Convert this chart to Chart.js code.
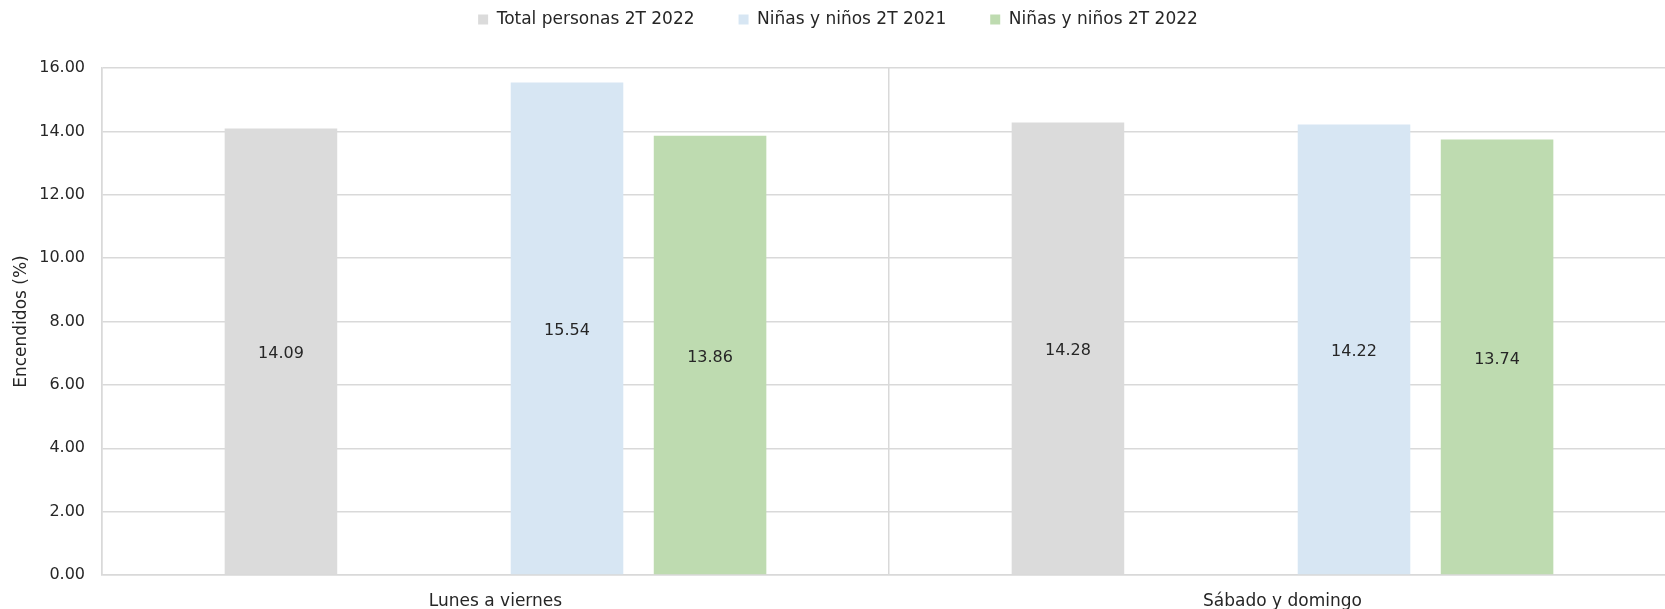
<!DOCTYPE html>
<html>
<head>
<meta charset="utf-8">
<script src="https://cdn.jsdelivr.net/npm/chart.js@4.4.1/dist/chart.umd.min.js"></script>
<style>
  html, body { margin: 0; padding: 0; background: #ffffff; overflow: hidden; width: 1665px; height: 609px; }
  #wrap { position: absolute; left: 0; top: 0; width: 1676px; height: 630px; }
</style>
</head>
<body>
<div id="wrap"><canvas id="c" width="1676" height="630"></canvas></div>
<script>
const categories = ['Lunes a viernes', 'Sábado y domingo'];
const seriesLabels = ['Total personas 2T 2022', '', 'Niñas y niños 2T 2021', 'Niñas y niños 2T 2022'];
const totalPersonas2022 = [14.09, 14.28];
const spacerSeries = [null, null];
const ninos2021 = [15.54, 14.22];
const ninos2022 = [13.86, 13.74];
const yTicks = [0, 2, 4, 6, 8, 10, 12, 14, 16];
const yTitle = 'Encendidos (%)';

const FONT = 'DejaVu Sans';

const barLabels = {
  id: 'barLabels',
  afterDatasetsDraw(chart) {
    const ctx = chart.ctx;
    ctx.save();
    ctx.font = '16px "' + FONT + '"';
    ctx.fillStyle = '#262626';
    ctx.textAlign = 'center';
    ctx.textBaseline = 'middle';
    chart.data.datasets.forEach((ds, di) => {
      const meta = chart.getDatasetMeta(di);
      meta.data.forEach((bar, i) => {
        const v = ds.data[i];
        if (v === null || v === undefined) return;
        const p = bar.getProps(['x', 'y', 'base'], true);
        ctx.fillText(v.toFixed(2), p.x, (p.y + p.base) / 2 + 2.5);
      });
    });
    ctx.restore();
  }
};

const legendHeight = {
  id: 'legendHeight',
  beforeInit(chart) {
    const lg = chart.legend;
    if (!lg) return;
    const orig = lg.fit;
    lg.fit = function () {
      orig.call(this);
      this.height = 101;
    };
  }
};

const colors = ['#DBDBDB', 'rgba(0,0,0,0)', '#D7E6F3', '#BEDBB0'];
const seriesData = [totalPersonas2022, spacerSeries, ninos2021, ninos2022];

new Chart(document.getElementById('c'), {
  type: 'bar',
  data: {
    labels: categories,
    datasets: seriesData.map((d, i) => ({
      label: seriesLabels[i],
      data: d,
      backgroundColor: colors[i],
      borderWidth: 0,
      categoryPercentage: 0.727,
      barPercentage: 0.787
    }))
  },
  options: {
    responsive: false,
    animation: false,
    devicePixelRatio: 1,
    layout: { padding: { top: -33, left: 0, right: 0, bottom: 0 } },
    plugins: {
      legend: {
        position: 'top',
        align: 'center',
        labels: {
          boxWidth: 10,
          boxHeight: 10,
          padding: 44,
          color: '#262626',
          font: { family: FONT, size: 17 },
          filter: (item) => item.text !== ''
        }
      },
      tooltip: { enabled: false },
      title: { display: false }
    },
    scales: {
      x: {
        grid: { display: true, color: '#D9D9D9', lineWidth: 1.5, drawTicks: false, offset: true },
        border: { display: true, color: '#D9D9D9', width: 1.5 },
        ticks: { color: '#262626', font: { family: FONT, size: 17 }, padding: 16, maxRotation: 0 },
        afterFit(scale) { scale.height = 55; }
      },
      y: {
        min: yTicks[0],
        max: yTicks[yTicks.length - 1],
        afterBuildTicks(scale) { scale.ticks = yTicks.map(v => ({ value: v })); },
        grid: { color: '#D9D9D9', lineWidth: 1.5, drawTicks: false },
        border: { display: true, color: '#D9D9D9', width: 1.5 },
        ticks: {
          color: '#262626',
          font: { family: FONT, size: 16 },
          padding: 17,
          callback: (v) => Number(v).toFixed(2)
        },
        title: {
          display: true,
          text: yTitle,
          color: '#262626',
          font: { family: FONT, size: 17 },
          padding: { top: 11, bottom: 0 }
        },
        afterFit(scale) { scale.width = 102; }
      }
    }
  },
  plugins: [barLabels, legendHeight]
});
</script>
</body>
</html>
